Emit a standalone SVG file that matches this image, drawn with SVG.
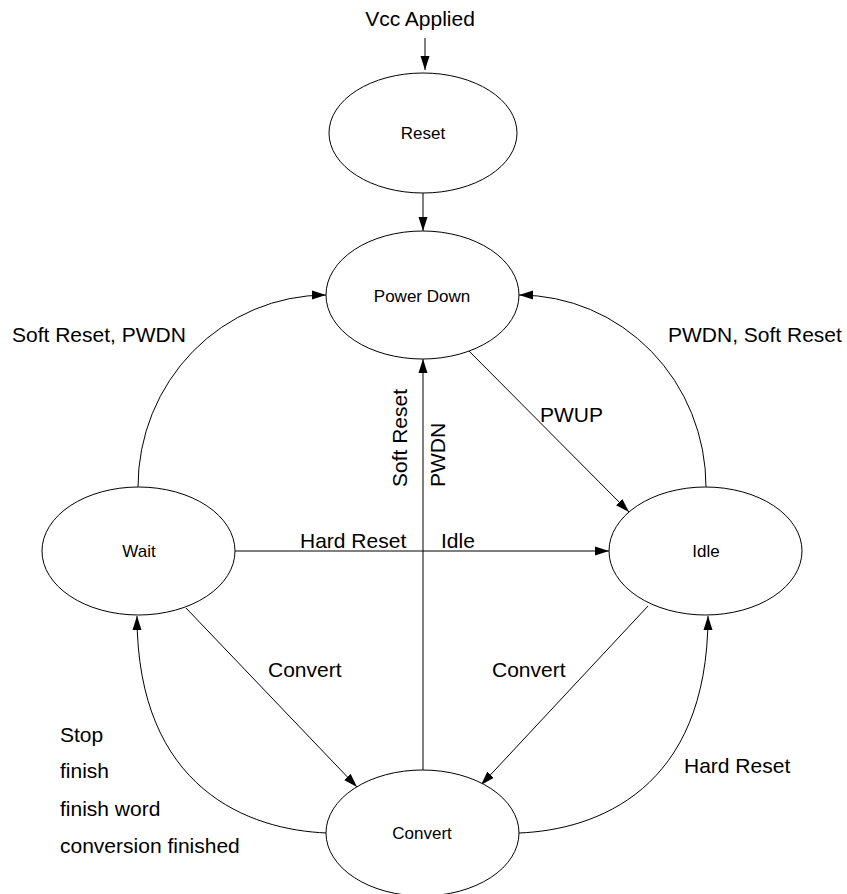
<svg xmlns="http://www.w3.org/2000/svg" width="847" height="894" viewBox="0 0 847 894">
<style>
  .node { fill: #ffffff; stroke: #000000; stroke-width: 1; }
  .nlabel { font-family: "Liberation Sans", Arial, sans-serif; font-size: 17px; fill: #000; text-anchor: middle; }
  .elabel { font-family: "Liberation Sans", Arial, sans-serif; font-size: 21px; fill: #000; }
  .conn { fill: none; stroke: #000000; stroke-width: 1; marker-end: url(#arrow); }
</style>
<defs>
  <marker id="arrow" markerUnits="userSpaceOnUse" markerWidth="14" markerHeight="10" refX="14" refY="4.5" orient="auto" viewBox="0 0 14 9">
    <path d="M0,0 L14,4.5 L0,9 z" fill="#000000"/>
  </marker>
</defs>
<rect width="847" height="894" fill="#ffffff"/>

<g id="connectors">
  <path class="conn" d="M425,38 L425,70"/>
  <path class="conn" d="M423,193 L423,231"/>
  <path class="conn" d="M138,487 A188,192 0 0 1 326,295"/>
  <path class="conn" d="M706,487 A187,192 0 0 0 519,295"/>
  <path class="conn" d="M465,347 L629,512"/>
  <path class="conn" d="M423,770 L423,359"/>
  <path class="conn" d="M235,551 L609,551"/>
  <path class="conn" d="M186,608 L357,787"/>
  <path class="conn" d="M648,606 L481,785"/>
  <path class="conn" d="M327,833 C250,830 137,790 137,616"/>
  <path class="conn" d="M519,833 C596,830 708,790 708,616"/>
</g>

<g id="node-reset">
  <ellipse class="node" cx="423" cy="133" rx="94" ry="60"/>
  <text class="nlabel" x="423" y="139">Reset</text>
</g>
<g id="node-powerdown">
  <ellipse class="node" cx="422.5" cy="295" rx="96.5" ry="64"/>
  <text class="nlabel" x="422" y="302">Power Down</text>
</g>
<g id="node-wait">
  <ellipse class="node" cx="138.5" cy="551" rx="96.5" ry="64"/>
  <text class="nlabel" x="139" y="557">Wait</text>
</g>
<g id="node-idle">
  <ellipse class="node" cx="705.5" cy="551" rx="96.5" ry="64"/>
  <text class="nlabel" x="706" y="557">Idle</text>
</g>
<g id="node-convert">
  <ellipse class="node" cx="422.5" cy="833" rx="96.5" ry="63"/>
  <text class="nlabel" x="422" y="839">Convert</text>
</g>

<g id="labels">
  <text class="elabel" x="420" y="26" text-anchor="middle">Vcc Applied</text>
  <text class="elabel" x="12" y="342">Soft Reset, PWDN</text>
  <text class="elabel" x="668" y="342">PWDN, Soft Reset</text>
  <text class="elabel" x="540" y="422">PWUP</text>
  <text class="elabel" transform="translate(407,487) rotate(-90)">Soft Reset</text>
  <text class="elabel" transform="translate(445,487) rotate(-90)">PWDN</text>
  <text class="elabel" x="300" y="548">Hard Reset</text>
  <text class="elabel" x="441" y="548">Idle</text>
  <text class="elabel" x="268" y="677">Convert</text>
  <text class="elabel" x="492" y="677">Convert</text>
  <text class="elabel" x="60" y="742">Stop</text>
  <text class="elabel" x="60" y="778">finish</text>
  <text class="elabel" x="60" y="816">finish word</text>
  <text class="elabel" x="60" y="853">conversion finished</text>
  <text class="elabel" x="684" y="773">Hard Reset</text>
</g>
</svg>
